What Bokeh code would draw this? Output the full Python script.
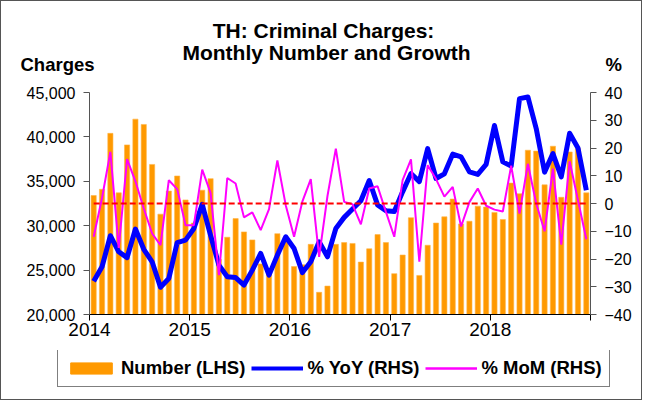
from bokeh.plotting import figure
from bokeh.layouts import column, row
from bokeh.models import (Range1d, LinearAxis, FixedTicker, NumeralTickFormatter,
                          Legend, LegendItem)
from bokeh.core.properties import value
from bokeh.embed import file_html
from bokeh.resources import INLINE

# ---------------- data ----------------
years = ["2014", "2015", "2016", "2017", "2018"]
months = [f"{y}-{m:02d}" for y in years for m in range(1, 13)]

number = [33400, 34100, 40400, 33700, 39100, 42000, 41400, 36900, 31300, 33900, 35600, 32900,
          30300, 34000, 35300, 26200, 28700, 30800, 29300, 28400, 25700, 25100, 29100, 28700,
          25400, 25600, 27900, 22500, 23200, 27900, 28100, 28000, 25900, 27400, 29000, 28100,
          24600, 26700, 30900, 24400, 27800, 30300, 31000, 33000, 30200, 30500, 32200, 32100,
          31500, 30700, 34800, 33600, 38500, 38400, 34600, 38950, 33200, 38300, 38700, 33700]

yoy = [-28.0, -22.8, -11.6, -17.4, -19.5, -9.2, -16.5, -21.0, -30.2, -27.0, -14.1, -13.2,
       -9.0, -0.3, -11.5, -22.2, -26.4, -26.7, -29.4, -24.0, -18.0, -25.8, -18.6, -12.0,
       -16.2, -24.9, -21.0, -13.8, -19.2, -9.0, -5.0, -2.0, 1.0, 8.3, -0.5, -2.6,
       -2.9, 4.2, 10.8, 7.9, 19.8, 9.0, 10.7, 17.8, 16.8, 11.4, 10.5, 14.1,
       28.1, 15.0, 13.5, 37.8, 38.4, 27.0, 11.3, 18.0, 9.6, 25.3, 20.0, 4.8]

mom = [-12.0, 2.0, 18.6, -16.0, 16.0, 8.0, -1.8, -10.8, -15.0, 8.4, 5.2, -7.8,
       -7.8, 12.2, 3.8, -25.8, 9.2, 7.2, -5.0, -3.2, -9.6, -2.0, 15.5, -0.6,
       -12.0, 0.8, 8.8, -19.2, 2.7, 19.8, 0.6, -0.3, -7.5, 5.4, 6.2, -3.0,
       -12.0, 8.4, 15.9, -21.0, 13.8, 8.8, 2.5, 6.0, -8.3, 0.5, 5.4, -0.8,
       -2.2, -2.9, 13.6, -3.6, 14.3, 0.0, -10.0, 12.6, -14.8, 15.2, 1.2, -12.9]

zero_ref = [0.0] * len(months)

left_ticks = [20000, 25000, 30000, 35000, 40000, 45000]
right_ticks = [-40, -30, -20, -10, 0, 10, 20, 30, 40]

title_lines = ["TH: Criminal Charges:", "Monthly Number and Growth"]
left_caption = "Charges"
right_caption = "%"
series_names = ["Number (LHS)", "% YoY (RHS)", "% MoM (RHS)"]

# ---------------- styling ----------------
FONT = "Liberation Sans"
W = 640
ORANGE, BLUE, PINK, RED = "#FF9900", "#0000FF", "#FF00FF", "#FF0000"
FRAME_L, FRAME_R = 88, 589   # frame edges inside the bordered box


def bare(fig):
    fig.outline_line_color = None
    fig.xgrid.visible = False
    fig.ygrid.visible = False
    fig.min_border = 0
    fig.background_fill_color = "white"
    fig.border_fill_color = "white"


# ---------------- top: titles ----------------
top = figure(width=W, height=79, output_backend="svg", toolbar_location=None,
             x_range=Range1d(0, W), y_range=Range1d(79, 0),
             x_axis_location=None, y_axis_location=None)
bare(top)
top.text(x=[322, 325], y=[28.5, 50.5], text=title_lines, text_font=value(FONT),
         text_font_style="bold", text_font_size="21px", text_align="center",
         text_baseline="middle", text_color="black")
top.text(x=[19, 604], y=[63, 63], text=[left_caption, right_caption], text_font=value(FONT),
         text_font_style="bold", text_font_size="18.5px", text_align="left",
         text_baseline="middle", text_color="black")

# ---------------- main chart ----------------
x = [i + 0.5 for i in range(len(months))]

p = figure(width=W, height=270, output_backend="svg", toolbar_location=None,
           x_range=Range1d(0, len(months)), y_range=Range1d(left_ticks[0], left_ticks[-1]),
           min_border_left=FRAME_L, min_border_right=W - FRAME_R, min_border_top=12,
           min_border_bottom=36)
p.extra_y_ranges = {"pct": Range1d(right_ticks[0], right_ticks[-1])}
p.outline_line_color = None
p.xgrid.visible = False
p.ygrid.visible = False
p.background_fill_color = "white"
p.border_fill_color = "white"

bars = p.vbar(x=x, top=number, bottom=left_ticks[0], width=0.62,
              fill_color=ORANGE, line_color="#FFB547", line_width=0.6)
p.line(x, yoy, y_range_name="pct", line_color=BLUE, line_width=5, line_join="round")
p.line(x, mom, y_range_name="pct", line_color=PINK, line_width=2)
p.line(x, zero_ref, y_range_name="pct", line_color=RED, line_width=2.2, line_dash="6 3")

xa = p.xaxis[0]
xa.ticker = FixedTicker(ticks=[12 * i for i in range(len(years) + 1)])
xa.major_label_overrides = {**{12 * i: yr for i, yr in enumerate(years)}, 12 * len(years): ""}
xa.major_tick_out = 6
xa.major_tick_in = 0
xa.minor_tick_line_color = None
xa.axis_line_color = "black"
xa.major_tick_line_color = "black"
xa.major_label_text_font = FONT
xa.major_label_text_font_size = "19px"
xa.major_label_text_color = "black"
xa.major_label_standoff = 2

ya = p.yaxis[0]
ya.ticker = FixedTicker(ticks=left_ticks)
ya.formatter = NumeralTickFormatter(format="0,0")
ya.major_tick_out = 6
ya.major_tick_in = 0
ya.minor_tick_line_color = None
ya.axis_line_color = "#555555"
ya.major_tick_line_color = "#555555"
ya.major_label_text_font = FONT
ya.major_label_text_font_size = "16px"
ya.major_label_text_color = "black"
ya.major_label_standoff = 8

ra = LinearAxis(y_range_name="pct", ticker=FixedTicker(ticks=right_ticks))
ra.major_tick_out = 6
ra.major_tick_in = 0
ra.minor_tick_line_color = None
ra.axis_line_color = "#555555"
ra.major_tick_line_color = "#555555"
ra.major_label_text_font = FONT
ra.major_label_text_font_size = "16px"
ra.major_label_text_color = "black"
ra.major_label_standoff = 8
p.add_layout(ra, "right")

# ---------------- bottom: legend ----------------
bot = figure(width=W, height=49, output_backend="svg", toolbar_location=None,
             x_range=Range1d(0, W), y_range=Range1d(0, 49),
             x_axis_location=None, y_axis_location=None)
bare(bot)
# key glyphs only (placed outside the visible range, they exist to draw legend keys)
k_bar = bot.vbar(x=[-100], top=[-100], bottom=[-200], width=1,
                 fill_color=ORANGE, line_color=ORANGE)
k_yoy = bot.line(x=[-100, -90], y=[-100, -100], line_color=BLUE, line_width=4)
k_mom = bot.line(x=[-100, -90], y=[-100, -100], line_color=PINK, line_width=2.5)
legend = Legend(items=[LegendItem(label=series_names[0], renderers=[k_bar]),
                       LegendItem(label=series_names[1], renderers=[k_yoy]),
                       LegendItem(label=series_names[2], renderers=[k_mom])],
                location=(56, 12), orientation="horizontal",
                glyph_width=52, glyph_height=14, label_standoff=4, spacing=6,
                padding=7, margin=0,
                label_text_font=FONT, label_text_font_style="bold",
                label_text_font_size="18.5px", label_text_color="black",
                border_line_color="black", border_line_width=1.2,
                background_fill_color="white", background_fill_alpha=1.0)
bot.add_layout(legend)

layout = column(top, row(p, spacing=0), bot, spacing=0,
                styles={"border": "1px solid #555555"})

open("out.html", "w").write(file_html(layout, INLINE))
